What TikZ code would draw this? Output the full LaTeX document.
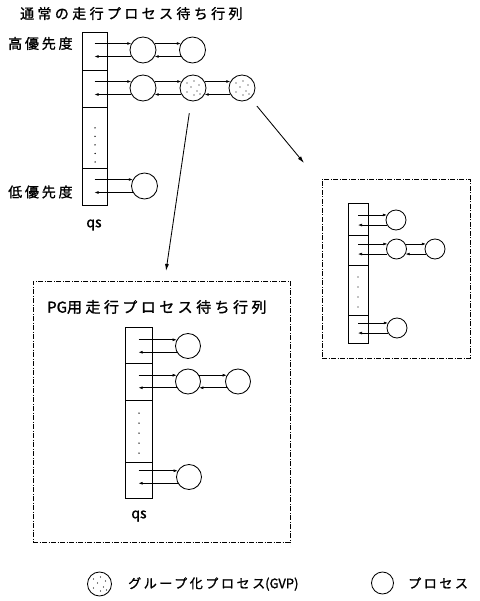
\documentclass[tikz,border=0pt]{standalone}
\usepackage{fontspec}
\newfontfamily\jpf{Noto Sans CJK JP}[FakeBold=1.3]
\usetikzlibrary{arrows.meta,calc}
\newcommand\mystipple[1]{%
  \foreach \dx/\dy in {-6/-5,1/-7,6/-3,-2/-1,4/3,-6/4,1/7,7/6}
    \fill ($(#1)+(\dx,\dy)$) circle (0.6pt);}
\newcommand\nols[1]{{\addfontfeature{LetterSpace=0}#1}}
\begin{document}
\begin{tikzpicture}[x=1pt,y=-1pt,
  cellbox/.style={draw, line width=0.8pt, inner sep=0pt, outer sep=0pt},
  proc/.style={draw, circle, line width=0.85pt, inner sep=0pt},
  qarr/.style={-{Latex[length=4pt,width=2.8pt]}, line width=0.6pt},
  conn/.style={-{Latex[length=7pt,width=4pt]}, line width=0.85pt},
  frame/.style={draw, line width=0.65pt, dash pattern=on 5pt off 1.5pt on 1pt off 1.5pt, inner sep=0pt},
  lbl/.style={inner sep=0pt, anchor=west},
  ttl/.style={font={\jpf\fontsize{14}{16}\selectfont\addfontfeature{LetterSpace=24}}},
  prio/.style={font={\jpf\fontsize{14}{16}\selectfont\addfontfeature{LetterSpace=20}}},
  pgt/.style={font={\jpf\fontsize{15}{17}\selectfont\addfontfeature{LetterSpace=23}}},
  qsl/.style={inner sep=0pt, font={\jpf\fontsize{14}{16}\selectfont}},
  leg/.style={font={\jpf\fontsize{13}{15}\selectfont\addfontfeature{LetterSpace=20}}}
]
\useasboundingbox (0,0) rectangle (479,601);

% ---------- normal queue ----------
\node[lbl, ttl] (title) at (20,13.5) {通常の走行プロセス待ち行列};
\node[lbl, prio] (hi) at (8,43.5) {高優先度};
\node[lbl, prio] (lo) at (8,192) {低優先度};

\node[cellbox, minimum width=25pt, minimum height=38pt] (t1) at (94.5,51) {};
\node[cellbox, minimum width=25pt, minimum height=37pt] (t2) at (94.5,88.5) {};
\node[cellbox, minimum width=25pt, minimum height=61pt] (t3) at (94.5,137.5) {};
\node[cellbox, minimum width=25pt, minimum height=37pt] (t4) at (94.5,186.5) {};
\foreach \yy in {128,136.5,145,153.5,162} \fill (95,\yy) circle (0.75pt);
\node[qsl] (qs1) at (94,225) {qs};

\node[proc, minimum size=26pt] (A1) at (143,50) {};
\node[proc, minimum size=26pt] (A2) at (192.5,50) {};
\node[proc, minimum size=26pt] (B1) at (143,88) {};
\node[proc, minimum size=26pt] (B2) at (193,88) {};
\node[proc, minimum size=26pt] (B3) at (242,88) {};
\node[proc, minimum size=26pt] (C1) at (144.5,186) {};
\mystipple{B2}
\mystipple{B3}

\draw[qarr] (t1.center |- A1.151) -- (A1.151);
\draw[qarr] (A1.209) -- (t1.center |- A1.209);
\draw[qarr] (A1.29) -- (A2.151);
\draw[qarr] (A2.209) -- (A1.331);

\draw[qarr] (t2.center |- B1.151) -- (B1.151);
\draw[qarr] (B1.209) -- (t2.center |- B1.209);
\draw[qarr] (B1.29) -- (B2.151);
\draw[qarr] (B2.209) -- (B1.331);
\draw[qarr] (B2.29) -- (B3.151);
\draw[qarr] (B3.209) -- (B2.331);

\draw[qarr] (t4.center |- C1.151) -- (C1.151);
\draw[qarr] (C1.209) -- (t4.center |- C1.209);

% ---------- PG queue (bottom left) ----------
\node[frame, minimum width=257pt, minimum height=261pt] (pgbox) at (161.5,411.5) {};
\node[lbl, pgt] (pgtitle) at (47,307) {\nols{PG}用走行プロセス待ち行列};

\node[cellbox, minimum width=27pt, minimum height=36pt] (p1) at (138.5,345) {};
\node[cellbox, minimum width=27pt, minimum height=37pt] (p2) at (138.5,381.5) {};
\node[cellbox, minimum width=27pt, minimum height=62pt] (p3) at (138.5,431) {};
\node[cellbox, minimum width=27pt, minimum height=36pt] (p4) at (138.5,480) {};
\foreach \yy in {413,423,433,443,453} \fill (139,\yy) circle (0.75pt);
\node[qsl] (qs2) at (139,516) {qs};

\node[proc, minimum size=25pt] (P1) at (188,346) {};
\node[proc, minimum size=25pt] (P2) at (188,381.5) {};
\node[proc, minimum size=25pt] (P3) at (238,381.5) {};
\node[proc, minimum size=25pt] (P4) at (189,477) {};

\draw[qarr] (p1.center |- P1.151) -- (P1.151);
\draw[qarr] (P1.209) -- (p1.center |- P1.209);
\draw[qarr] (p2.center |- P2.151) -- (P2.151);
\draw[qarr] (P2.209) -- (p2.center |- P2.209);
\draw[qarr] (P2.29) -- (P3.151);
\draw[qarr] (P3.209) -- (P2.331);
\draw[qarr] (p4.center |- P4.151) -- (P4.151);
\draw[qarr] (P4.209) -- (p4.center |- P4.209);

% ---------- right queue ----------
\node[frame, minimum width=148pt, minimum height=179pt] (rbox) at (396,268.5) {};
\node[cellbox, minimum width=20pt, minimum height=32pt] (r1) at (358,219) {};
\node[cellbox, minimum width=20pt, minimum height=30pt] (r2) at (358,250) {};
\node[cellbox, minimum width=20pt, minimum height=50pt] (r3) at (358,290) {};
\node[cellbox, minimum width=20pt, minimum height=28pt] (r4) at (358,329) {};
\foreach \yy in {277,287,297,307} \fill (358,\yy) circle (0.7pt);

\node[proc, minimum size=20pt] (R1) at (396,220) {};
\node[proc, minimum size=20pt] (R2) at (396.5,249) {};
\node[proc, minimum size=20pt] (R3) at (435,249) {};
\node[proc, minimum size=20pt] (R4) at (397,328) {};

\draw[qarr] (r1.center |- R1.151) -- (R1.151);
\draw[qarr] (R1.209) -- (r1.center |- R1.209);
\draw[qarr] (r2.center |- R2.151) -- (R2.151);
\draw[qarr] (R2.209) -- (r2.center |- R2.209);
\draw[qarr] (R2.29) -- (R3.151);
\draw[qarr] (R3.209) -- (R2.331);
\draw[qarr] (r4.center |- R4.151) -- (R4.151);
\draw[qarr] (R4.209) -- (r4.center |- R4.209);

% ---------- connectors ----------
\coordinate (e1) at (166,271);
\coordinate (e2) at (304,163);
\draw[conn, shorten <=12pt] (B2) -- (e1);
\draw[conn, shorten <=10pt] (B3) -- (e2);

% ---------- legend ----------
\node[proc, minimum size=24pt] (L1) at (99.5,584) {};
\mystipple{L1}
\node[lbl, leg] (l1t) at (128,584) {グループ化プロセス\nols{(GVP)}};
\node[proc, minimum size=22pt] (L2) at (382.5,583) {};
\node[lbl, leg] (l2t) at (408,583) {プロセス};
\end{tikzpicture}
\end{document}
